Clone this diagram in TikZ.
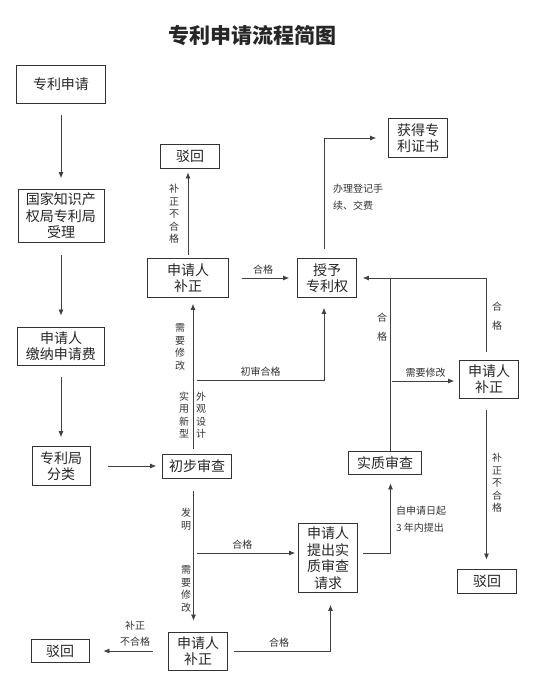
\documentclass[tikz,border=0pt]{standalone}
\usepackage{fontspec}
\newfontfamily\cjk{Noto Sans CJK SC}
\usetikzlibrary{arrows.meta}

\begin{document}
\begin{tikzpicture}[
  x=1pt, y=-1pt,
  font=\cjk,
  box/.style={draw=black!80, line width=0.8pt, align=center, inner sep=1pt, text=black!85, font=\cjk\fontsize{14}{16.5}\selectfont},
  lab/.style={inner sep=0pt, align=left, text=black!80, font=\cjk\fontsize{10}{16.5}\selectfont},
  vlab/.style={inner sep=0pt, align=center, text=black!80, font=\cjk\fontsize{10}{12.5}\selectfont},
  wlab/.style={vlab, font=\cjk\fontsize{10}{19}\selectfont},
  arr/.style={-{Latex[length=6pt,width=5pt]}, draw=black!75, line width=0.7pt},
  link/.style={draw=black!75, line width=0.7pt}
]
\useasboundingbox (0,0) rectangle (540,697);

\node[font=\cjk\bfseries\fontsize{21}{24}\selectfont, text=black!85] (title) at (252,36) {专利申请流程简图};

\node[box, minimum width=89pt, minimum height=38pt] (apply) at (61,84) {专利申请};
\node[box, minimum width=86pt, minimum height=53pt] (accept) at (61,216) {国家知识产\\权局专利局\\受理};
\node[box, minimum width=87pt, minimum height=38pt] (fee) at (61,346) {申请人\\缴纳申请费};
\node[box, minimum width=58pt, minimum height=39pt] (classify) at (61,466) {专利局\\分类};
\node[box, minimum width=69pt, minimum height=24pt] (prelim) at (197,466) {初步审查};
\node[box, minimum width=59pt, minimum height=24pt] (rejectA) at (190,156) {驳回};
\node[box, minimum width=81pt, minimum height=39pt] (fixA) at (188,278) {申请人\\补正};
\node[box, minimum width=59pt, minimum height=39pt] (grant) at (327,278) {授予\\专利权};
\node[box, minimum width=59pt, minimum height=39pt] (cert) at (418,138) {获得专\\利证书};
\node[box, minimum width=59pt, minimum height=38pt] (fixB) at (489,379) {申请人\\补正};
\node[box, minimum width=73pt, minimum height=23pt] (exam) at (385,463) {实质审查};
\node[box, minimum width=59pt, minimum height=24pt] (rejectB) at (487,581) {驳回};
\node[box, minimum width=59pt, minimum height=69pt] (request) at (328,558) {申请人\\提出实\\质审查\\请求};
\node[box, minimum width=59pt, minimum height=38pt] (fixC) at (198,651) {申请人\\补正};
\node[box, minimum width=58pt, minimum height=23pt] (rejectC) at (60,651) {驳回};

\coordinate (prelimTop) at ([xshift=-4pt]prelim.north);
\coordinate (prelimBot) at ([xshift=-3.5pt]prelim.south);
\coordinate (grantTop) at ([xshift=-3pt]grant.north);
\coordinate (grantBot) at ([xshift=-3pt]grant.south);
\coordinate (examTop) at ([xshift=5.5pt]exam.north);
\coordinate (examBot) at ([xshift=5.5pt]exam.south);
\coordinate (fixBTop) at ([xshift=-2.5pt]fixB.north);
\coordinate (fixBBot) at ([xshift=-2.5pt]fixB.south);
\coordinate (reqOut) at ([yshift=5pt]request.east);
\coordinate (reqBot) at ([xshift=2.5pt]request.south);
\coordinate (cornerB) at (examTop |- grant);
\coordinate (passA) at (197,380);
\coordinate (needB) at (392,381);
\coordinate (passD) at (197,553);

\draw[arr, shorten <=12pt, shorten >=11pt] (apply) -- (accept);
\draw[arr, shorten <=12pt, shorten >=11pt] (accept) -- (fee);
\draw[arr, shorten <=12pt, shorten >=9pt] (fee) -- (classify);
\draw[arr, shorten <=18pt, shorten >=6pt] (classify) -- (prelim);

\draw[arr, shorten <=5pt, shorten >=6pt] (prelimTop) -- (prelimTop |- fixA.south);
\node[vlab] (needA) at (180,347) {需\\要\\修\\改};
\node[vlab] (utilA) at (184,415) {实\\用\\新\\型};
\node[vlab] (designA) at (201,415) {外\\观\\设\\计};
\draw[arr, shorten >=10pt] (passA) -| (grantBot) node[pos=0.25, above=3pt, lab] {初审合格};

\draw[arr, shorten <=3pt, shorten >=4pt] (fixA.north) -- (fixA.north |- rejectA.south);
\node[vlab] (failA) at (174,214) {补\\正\\不\\合\\格};
\draw[arr, shorten <=13pt, shorten >=8pt] (fixA) -- (grant) node[midway, above=3pt, lab] {合格};

\draw[arr, shorten <=9pt, shorten >=12pt] (grantTop) |- (cert);
\node[lab, anchor=north west] (feeNote) at (333,184) {办理登记手\\续、交费};

\draw[arr, shorten >=6pt] (examTop) |- (grant);
\node[wlab] (passB) at (382,327) {合\\格};
\draw[arr, shorten >=5pt] (needB) -- (needB -| fixB.west) node[midway, above=3pt, lab] {需要修改};
\draw[link, shorten <=8pt] (fixBTop) |- (cornerB);
\node[wlab] (passC) at (497,316) {合\\格};
\draw[arr, shorten <=12pt, shorten >=9pt] (fixBBot) -- (fixBBot |- rejectB.north);
\node[vlab] (failB) at (497,483) {补\\正\\不\\合\\格};

\draw[arr, shorten <=13pt, shorten >=11pt] (prelimBot) -- (prelimBot |- fixC.north);
\node[vlab] (invC) at (186,519) {发\\明};
\node[vlab] (needC) at (186,589) {需\\要\\修\\改};
\draw[arr, shorten >=3pt] (passD) -- (passD -| request.west) node[pos=0.45, above=3pt, lab] {合格};

\draw[arr, shorten <=5pt, shorten >=8.5pt] (reqOut) -| (examBot);
\node[lab, anchor=north west] (timeNote) at (396,506) {自申请日起\\3 年内提出};

\draw[arr, shorten <=15pt, shorten >=14pt] (fixC) -- (rejectC) node[pos=0.42, above=4pt, lab, align=center] {补正\\不合格};
\draw[arr, shorten <=6pt, shorten >=12pt] (fixC) -| (reqBot) node[pos=0.25, above=3pt, lab] {合格};
\end{tikzpicture}
\end{document}
